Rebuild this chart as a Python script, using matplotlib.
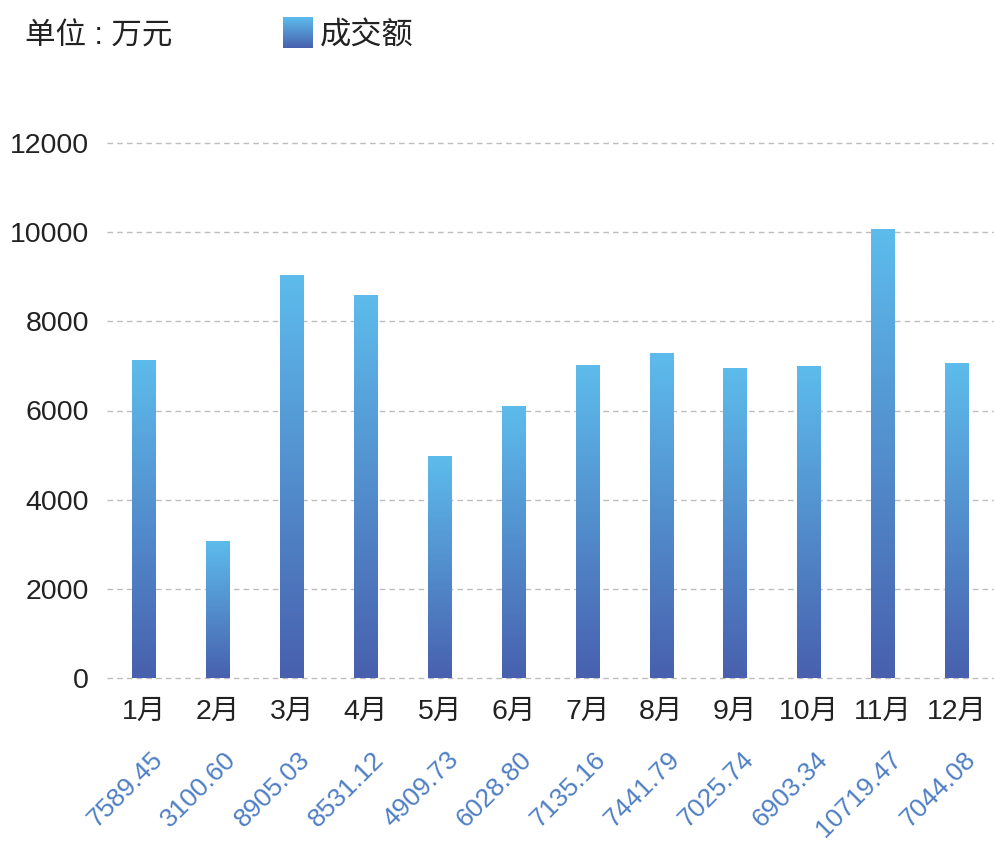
import numpy as np
import matplotlib
matplotlib.use("Agg")
import matplotlib.pyplot as plt
from matplotlib.colors import LinearSegmentedColormap

plt.rcParams['font.family'] = ['Liberation Sans', 'Noto Sans CJK SC', 'DejaVu Sans']

# data
months = ["1月", "2月", "3月", "4月", "5月", "6月", "7月", "8月", "9月", "10月", "11月", "12月"]
bar_values = [7140, 3080, 9030, 8600, 4970, 6110, 7030, 7300, 6950, 6990, 10070, 7060]
value_labels = ["7589.45", "3100.60", "8905.03", "8531.12", "4909.73", "6028.80",
                "7135.16", "7441.79", "7025.74", "6903.34", "10719.47", "7044.08"]
y_ticks = [0, 2000, 4000, 6000, 8000, 10000, 12000]

# dark blue at bottom -> light blue at top
grad = LinearSegmentedColormap.from_list("grad", ["#4860ae", "#5dbcec"])
gradient = np.linspace(0, 1, 256).reshape(-1, 1)

fig = plt.figure(figsize=(9.94, 8.42), dpi=100)
ax = fig.add_axes([107 / 994, (842 - 678) / 842, 887 / 994, 535 / 842])

x = np.arange(len(months))
bars = ax.bar(x, bar_values, width=0.32, color="none", edgecolor="none", zorder=3)
for rect in bars:
    x0 = rect.get_x()
    w = rect.get_width()
    h = rect.get_height()
    im = ax.imshow(gradient, extent=[x0, x0 + w, 0, h], origin="lower", cmap=grad,
                   aspect="auto", zorder=3)
    im.set_clip_path(rect)

ax.set_xlim(-0.5, len(months) - 0.5)
ax.set_ylim(0, 12000)
ax.set_yticks(y_ticks)
ax.set_xticks(x)
ax.set_xticklabels(months)
ax.tick_params(axis="x", length=0, pad=15, labelsize=20.5, labelcolor="#222222")
ax.tick_params(axis="y", length=0, pad=13, labelsize=20.5, labelcolor="#222222")

for y in y_ticks:
    ax.axhline(y, color="#bdbdbd", lw=1, ls=(0, (4, 3)), zorder=1, clip_on=False)
for s in ax.spines.values():
    s.set_visible(False)

# rotated value labels under the month names
for i, lab in enumerate(value_labels):
    ax.text(i + 0.2, -0.145, lab, transform=ax.get_xaxis_transform(),
            rotation=45, rotation_mode="anchor", ha="right", va="center",
            fontsize=19, color="#4f7fc4")

# header: unit and legend
fig.text(25 / 994, 1 - 37 / 842, "单位 : 万元", fontsize=22, color="#222222",
         ha="left", va="center")
lax = fig.add_axes([283 / 994, 1 - 48 / 842, 30 / 994, 31 / 842])
lax.imshow(gradient, origin="lower", cmap=grad, aspect="auto")
lax.axis("off")
fig.text(320 / 994, 1 - 37 / 842, "成交额", fontsize=22.5, color="#222222",
         ha="left", va="center")

fig.savefig("out.png", dpi=100)
